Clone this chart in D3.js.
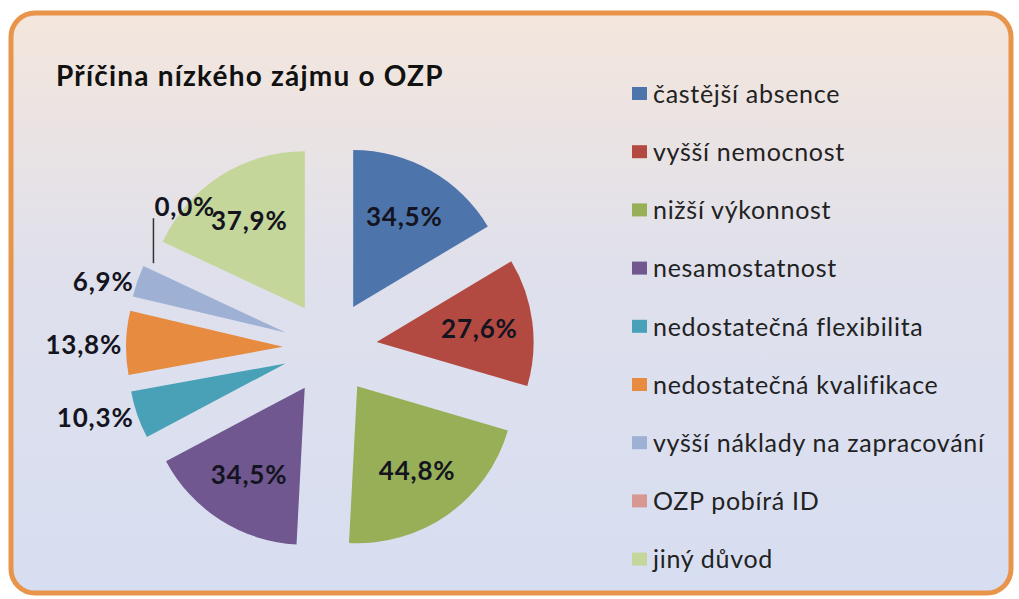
<!DOCTYPE html>
<html>
<head>
<meta charset="utf-8">
<script src="https://cdn.jsdelivr.net/npm/d3@7"></script>
<style>
  body { margin: 0; background: #fff; }
  text { font-family: Lato, "Open Sans", sans-serif; }
</style>
</head>
<body>
<div id="chart"></div>
<script>
// Data
var categories = ["častější absence", "vyšší nemocnost", "nižší výkonnost", "nesamostatnost",
  "nedostatečná flexibilita", "nedostatečná kvalifikace", "vyšší náklady na zapracování",
  "OZP pobírá ID", "jiný důvod"];
var values = [34.5, 27.6, 44.8, 34.5, 10.3, 13.8, 6.9, 0.0, 37.9];
var colors = ["#4d75ab", "#b34a42", "#97af57", "#70578f", "#48a1b6", "#e68b40", "#9fb0d5", "#d89892", "#c4d69a"];
var title = "Příčina nízkého zájmu o OZP";

var width = 1019, height = 599;

var svg = d3.select("#chart").append("svg")
  .attr("width", width)
  .attr("height", height);

// Background gradient
var defs = svg.append("defs");
var grad = defs.append("linearGradient")
  .attr("id", "bg")
  .attr("x1", "0%").attr("y1", "0%")
  .attr("x2", "0%").attr("y2", "100%");
grad.append("stop").attr("offset", "0%").attr("stop-color", "#f4e6dc");
grad.append("stop").attr("offset", "45%").attr("stop-color", "#dfe0ec");
grad.append("stop").attr("offset", "100%").attr("stop-color", "#d7def1");

svg.append("rect")
  .attr("x", 11).attr("y", 13)
  .attr("width", 1000).attr("height", 580)
  .attr("rx", 24)
  .attr("fill", "url(#bg)")
  .attr("stroke", "#e8954b")
  .attr("stroke-width", 5);

// Title
svg.append("text")
  .attr("x", 56).attr("y", 86)
  .style("font-size", "28px")
  .style("font-weight", "bold")
  .style("letter-spacing", "1.2px")
  .attr("fill", "#111")
  .text(title);

// Pie
var cx = 330, cy = 348;
var radius = 157;
var explode = 47;

var pie = d3.pie().sort(null).value(function(d) { return d; });
var arcs = pie(values);

var arc = d3.arc().innerRadius(0).outerRadius(radius);

var fmt = function(v) { return d3.format(".1f")(v).replace(".", ",") + "%"; };

var g = svg.append("g").attr("transform", "translate(" + cx + "," + cy + ")");

var slices = g.selectAll("g.slice")
  .data(arcs)
  .enter().append("g")
  .attr("class", "slice")
  .attr("transform", function(d) {
    var a = (d.startAngle + d.endAngle) / 2;
    return "translate(" + (explode * Math.sin(a)) + "," + (-explode * Math.cos(a)) + ")";
  });

slices.append("path")
  .attr("d", arc)
  .attr("fill", function(d, i) { return colors[i]; });

// Labels
g.selectAll("text.lbl")
  .data(arcs)
  .enter().append("text")
  .attr("class", "lbl")
  .style("font-size", "26px")
  .style("font-weight", "bold")
  .style("letter-spacing", "0.8px")
  .attr("fill", "#141420")
  .attr("dy", "0.35em")
  .each(function(d) {
    var a = (d.startAngle + d.endAngle) / 2;
    var span = d.endAngle - d.startAngle;
    var t = d3.select(this);
    if (span > 0.5) {
      var r = explode + radius * 0.66;
      t.attr("x", r * Math.sin(a)).attr("y", -r * Math.cos(a))
        .attr("text-anchor", "middle");
    } else if (d.value > 0) {
      var r2 = explode + radius + 4;
      t.attr("x", r2 * Math.sin(a)).attr("y", -r2 * Math.cos(a) + 2)
        .attr("text-anchor", "end");
    } else {
      // zero slice: leader line going up
      var r3 = explode + radius - 9;
      var px = r3 * Math.sin(a), py = -r3 * Math.cos(a);
      g.append("line")
        .attr("x1", px).attr("y1", py - 2)
        .attr("x2", px).attr("y2", py - 47)
        .attr("stroke", "#333")
        .attr("stroke-width", 1.5);
      t.attr("x", px + 1).attr("y", py - 58)
        .attr("text-anchor", "start");
    }
  })
  .text(function(d) { return fmt(d.value); });

// Legend
var legend = svg.append("g").attr("transform", "translate(632,94)");
var rowH = 58.2;

var items = legend.selectAll("g.item")
  .data(categories)
  .enter().append("g")
  .attr("class", "item")
  .attr("transform", function(d, i) { return "translate(0," + (i * rowH) + ")"; });

items.append("rect")
  .attr("x", 0).attr("y", -7)
  .attr("width", 15).attr("height", 13)
  .attr("fill", function(d, i) { return colors[i]; });

items.append("text")
  .attr("x", 21).attr("y", 0)
  .attr("dy", "0.35em")
  .style("font-size", "25px")
  .style("letter-spacing", "0.7px")
  .attr("fill", "#222")
  .text(function(d) { return d; });
</script>
</body>
</html>
